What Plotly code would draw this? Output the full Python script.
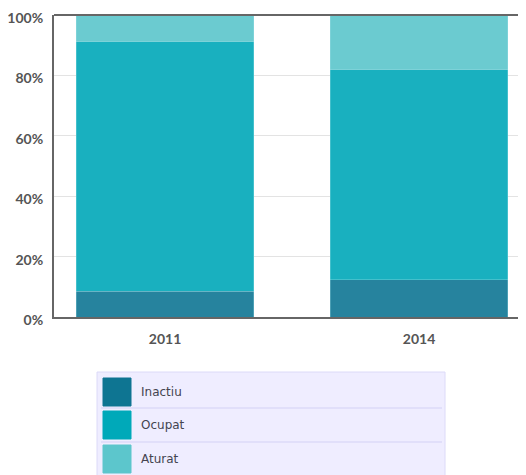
import plotly.graph_objects as go

years = ["2011", "2014"]
series_names = ["Inactiu", "Ocupat", "Aturat"]
inactiu = [8.6, 12.3]
ocupat = [82.5, 69.5]
aturat = [8.9, 18.2]
tick_vals = [0, 20, 40, 60, 80, 100]
tick_text = ["0%", "20%", "40%", "60%", "80%", "100%"]

bar_colors = ["#26839e", "#19b0bf", "#6bcbd0"]
legend_colors = ["#0e7592", "#00a9b9", "#5cc6cc"]

OFF = 8  # page body margin
W, H = 526 - OFF, 475 - OFF

fig = go.Figure()
for name, vals, col in zip(series_names, [inactiu, ocupat, aturat], bar_colors):
    fig.add_trace(go.Bar(
        x=years, y=vals, name=name, width=0.7,
        marker=dict(color=col, line=dict(color="rgba(170,230,235,0.5)", width=0.6)),
        showlegend=False,
    ))

def px(x):
    return (x - OFF) / W

def py(y):
    return (H - (y - OFF)) / H

shapes = []
annotations = []
shapes.append(dict(type="line", xref="paper", yref="paper", x0=px(54), x1=1.0,
                   y0=py(15), y1=py(15), line=dict(color="#666666", width=2)))
shapes.append(dict(type="rect", xref="paper", yref="paper", x0=px(97), x1=px(445),
                   y0=py(480), y1=py(372), fillcolor="#efedff",
                   line=dict(color="#dcdaf8", width=1), layer="below"))
row_tops = [378, 411, 445]
for i, (name, col) in enumerate(zip(series_names, legend_colors)):
    t = row_tops[i]
    shapes.append(dict(type="rect", xref="paper", yref="paper", x0=px(103), x1=px(131),
                       y0=py(t + 28), y1=py(t), fillcolor=col,
                       line=dict(color=col, width=1)))
    annotations.append(dict(xref="paper", yref="paper", x=px(138.5), y=py(t + 14),
                            text=name, showarrow=False, xanchor="left", yanchor="middle",
                            font=dict(family="DejaVu Sans", size=12, color="#444450")))
for sy in [408, 442]:
    shapes.append(dict(type="line", xref="paper", yref="paper", x0=px(101), x1=px(442),
                       y0=py(sy), y1=py(sy), line=dict(color="#dcdaf8", width=1.5)))

fig.update_layout(
    template="none",
    width=W, height=H,
    margin=dict(l=0, r=0, t=0, b=0, pad=0, autoexpand=False),
    barmode="stack",
    plot_bgcolor="white", paper_bgcolor="white",
    xaxis=dict(type="category", domain=[px(54), 1.0], range=[-0.437, 1.421],
               showgrid=False, automargin=False,
               showline=True, linecolor="#666666", linewidth=2,
               tickfont=dict(family="Lato", size=14, color="#555555", weight="bold"),
               ticklabelstandoff=8,
               ticks="", ticklen=0),
    yaxis=dict(domain=[py(317), py(15)], range=[0, 100], tickvals=tick_vals, automargin=False,
               ticktext=tick_text, showgrid=True, gridcolor="#e3e3e3", gridwidth=1,
               showline=True, linecolor="#666666", linewidth=2, zeroline=False,
               tickfont=dict(family="Lato", size=14, color="#555555", weight="bold"),
               ticklabeloverflow="allow", ticklabelstandoff=6, ticklabelshift=3,
               ticks="", ticklen=0),
    shapes=shapes,
    annotations=annotations,
)

fig.write_html("out.html")
